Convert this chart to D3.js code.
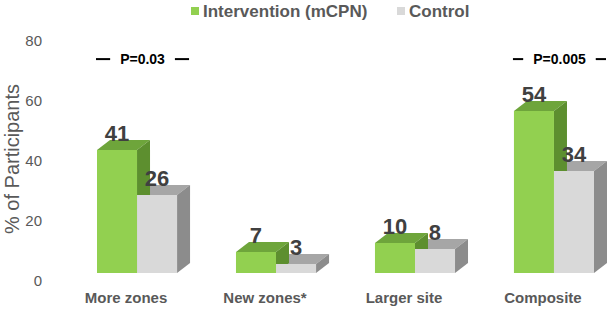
<!DOCTYPE html>
<html>
<head>
<meta charset="utf-8">
<script src="https://cdn.jsdelivr.net/npm/d3@7"></script>
<style>
  body { margin: 0; background: #fff; }
  text { font-family: "Liberation Sans", Arial, sans-serif; }
</style>
</head>
<body>
<div id="chart"></div>
<script>
const categories = ["More zones", "New zones*", "Larger site", "Composite"];
const seriesNames = ["Intervention (mCPN)", "Control"];
const intervention = [41, 7, 10, 54];
const control = [26, 3, 8, 34];
const pLabels = ["P=0.03", "", "", "P=0.005"];
const pLevel = 71.3;
const yTicks = [0, 20, 40, 60, 80];

const width = 613, height = 311;
const depthX = 13, depthY = 10;

const colors = {
  "Intervention (mCPN)": { front: "#92d050", top: "#6ea53b", side: "#5d8f2f" },
  "Control": { front: "#d9d9d9", top: "#a6a6a6", side: "#8c8c8c" }
};

const svg = d3.select("#chart").append("svg")
  .attr("width", width)
  .attr("height", height);

const y = d3.scaleLinear().domain([0, 80]).range([273, 33]);

const x = d3.scaleBand()
  .domain(categories)
  .range([97, 594])
  .paddingInner(0.424)
  .paddingOuter(0);

const xs = d3.scaleBand()
  .domain(seriesNames)
  .range([0, x.bandwidth()]);

const rows = categories.map((c, i) => ({
  cat: c,
  vals: [
    { s: seriesNames[0], v: intervention[i] },
    { s: seriesNames[1], v: control[i] }
  ],
  p: pLabels[i]
}));

// y tick labels
svg.append("g").selectAll("text")
  .data(yTicks)
  .enter()
  .append("text")
  .attr("x", 42)
  .attr("y", d => y(d) + 7)
  .attr("text-anchor", "end")
  .attr("dominant-baseline", "central")
  .attr("fill", "#595959")
  .style("font-size", "15px")
  .text(d => d);

// y axis title
svg.append("text")
  .attr("transform", "translate(19,159) rotate(-90)")
  .attr("text-anchor", "middle")
  .attr("fill", "#595959")
  .style("font-size", "20px")
  .text("% of Participants");

// bars, drawn back to front
const groups = svg.append("g").selectAll("g")
  .data(rows)
  .enter()
  .append("g")
  .attr("transform", d => `translate(${x(d.cat)},0)`);

function topFace(d) {
  const x0 = xs(d.s), x1 = x0 + xs.bandwidth(), t = y(d.v);
  return `M${x0},${t}L${x0 + depthX},${t - depthY}L${x1 + depthX},${t - depthY}L${x1},${t}Z`;
}
function sideFace(d) {
  const x1 = xs(d.s) + xs.bandwidth(), t = y(d.v), b = y(0);
  return `M${x1},${t}L${x1 + depthX},${t - depthY}L${x1 + depthX},${b - depthY}L${x1},${b}Z`;
}

groups.each(function (row) {
  const g = d3.select(this);
  const order = [row.vals[1], row.vals[0]];
  order.forEach(d => {
    g.append("path").attr("d", topFace(d)).attr("fill", colors[d.s].top);
    g.append("path").attr("d", sideFace(d)).attr("fill", colors[d.s].side);
  });
  order.slice().reverse().forEach(d => {
    g.append("rect")
      .attr("x", xs(d.s))
      .attr("y", y(d.v))
      .attr("width", xs.bandwidth())
      .attr("height", y(0) - y(d.v))
      .attr("fill", colors[d.s].front);
  });
  // value labels
  row.vals.forEach(d => {
    g.append("text")
      .attr("x", xs(d.s) + xs.bandwidth() / 2)
      .attr("y", y(d.v) - depthY + 1)
      .attr("text-anchor", "middle")
      .attr("fill", "#404040")
      .attr("font-weight", "bold")
      .style("font-size", "22px")
      .text(d.v);
  });
});

// category labels
svg.append("g").selectAll("text")
  .data(categories)
  .enter()
  .append("text")
  .attr("x", d => x(d) + x.bandwidth() / 2 - 11)
  .attr("y", 303)
  .attr("text-anchor", "middle")
  .attr("fill", "#595959")
  .attr("font-weight", "bold")
  .style("font-size", "15px")
  .text(d => d);

// p-value brackets
rows.filter(r => r.p).forEach(r => {
  const x0 = x(r.cat) - 1, x1 = x(r.cat) + x.bandwidth() + depthX - 1;
  const cx = (x0 + x1) / 2, py = y(pLevel);
  const t = svg.append("text")
    .attr("x", cx)
    .attr("y", py)
    .attr("text-anchor", "middle")
    .attr("dominant-baseline", "central")
    .attr("fill", "#000")
    .attr("font-weight", "bold")
    .style("font-size", "14px")
    .text(r.p);
  const w = t.node().getComputedTextLength();
  svg.append("line").attr("x1", x0).attr("x2", cx - w / 2 - 10)
    .attr("y1", py).attr("y2", py).attr("stroke", "#000").attr("stroke-width", 2);
  svg.append("line").attr("x1", cx + w / 2 + 10).attr("x2", x1)
    .attr("y1", py).attr("y2", py).attr("stroke", "#000").attr("stroke-width", 2);
});

// legend
const legendX = [191, 397];
const legend = svg.append("g").selectAll("g")
  .data(seriesNames)
  .enter()
  .append("g")
  .attr("transform", (d, i) => `translate(${legendX[i]},11)`);

legend.append("rect")
  .attr("x", 0)
  .attr("y", -4)
  .attr("width", 8)
  .attr("height", 8)
  .attr("fill", d => colors[d].front);

legend.append("text")
  .attr("x", 12)
  .attr("y", 0)
  .attr("dominant-baseline", "central")
  .attr("fill", "#595959")
  .attr("font-weight", "bold")
  .style("font-size", "17px")
  .text(d => d);
</script>
</body>
</html>
